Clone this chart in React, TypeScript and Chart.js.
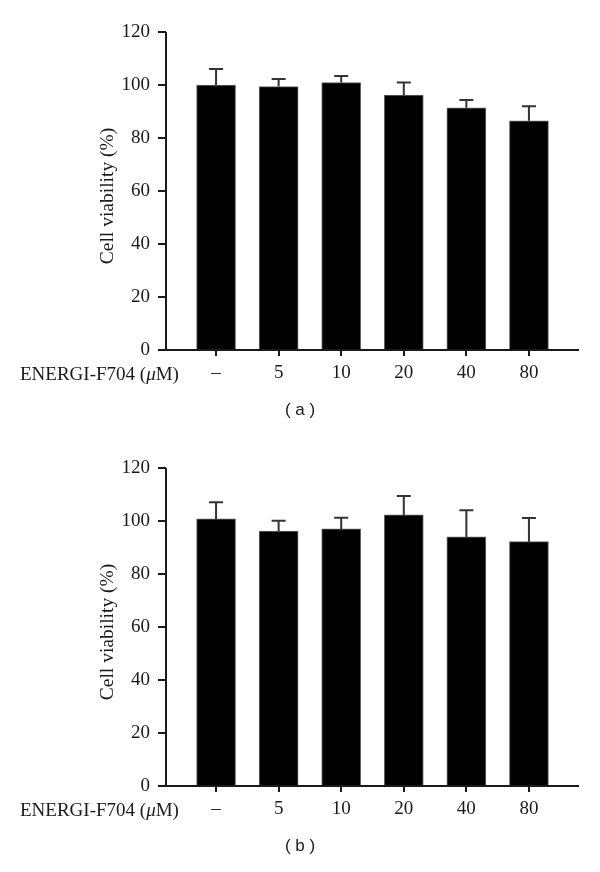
import React, { useEffect, useRef } from 'react';
import { Chart, registerables } from 'chart.js';

Chart.register(...registerables);

// ---- data ----
const categories = ['–', '5', '10', '20', '40', '80'];
const positions = [1, 2, 3, 4, 5, 6];
const yTicks = [0, 20, 40, 60, 80, 100, 120];
const meansA = [100.0, 99.4, 100.9, 96.2, 91.4, 86.5];
const errsA = [6.0, 2.9, 2.5, 4.7, 2.9, 5.5];
const meansB = [100.8, 96.2, 97.0, 102.3, 94.0, 92.2];
const errsB = [6.3, 3.9, 4.2, 7.1, 10.1, 8.9];
const xAxisLabel = ['ENERGI-F704 (', 'μ', 'M)'];
const yAxisLabel = 'Cell viability (%)';

const SERIF = '"Liberation Serif", "DejaVu Serif", serif';
const SANS = '"Liberation Sans", Arial, sans-serif';
const INK = '#1a1a1a';
const FS = 19;

function makePlugin(errs: number[], panelLabel: string) {
  return {
    id: 'extras' + panelLabel.replace(/\W/g, ''),
    afterDatasetsDraw(chart: any) {
      const ctx: CanvasRenderingContext2D = chart.ctx;
      const area = chart.chartArea;
      const yScale = chart.scales.y;
      const meta = chart.getDatasetMeta(0);
      const ds = chart.data.datasets[0].data as any[];
      ctx.save();
      // error bars
      ctx.strokeStyle = '#333';
      ctx.lineWidth = 2;
      meta.data.forEach((el: any, i: number) => {
        const top = yScale.getPixelForValue(ds[i].y + errs[i]);
        ctx.beginPath();
        ctx.moveTo(el.x, el.y);
        ctx.lineTo(el.x, top);
        ctx.moveTo(el.x - 7, top);
        ctx.lineTo(el.x + 7, top);
        ctx.stroke();
      });
      // axes lines
      ctx.strokeStyle = INK;
      ctx.lineWidth = 2;
      ctx.beginPath();
      ctx.moveTo(area.left, area.top);
      ctx.lineTo(area.left, area.bottom);
      ctx.moveTo(area.left - 8, area.bottom);
      ctx.lineTo(area.right, area.bottom);
      ctx.stroke();
      // y-axis title
      ctx.fillStyle = INK;
      ctx.font = `${FS + 0.5}px ${SERIF}`;
      ctx.textAlign = 'center';
      ctx.textBaseline = 'middle';
      ctx.save();
      ctx.translate(108, (area.top + area.bottom) / 2 + 5);
      ctx.rotate(-Math.PI / 2);
      ctx.fillText(yAxisLabel, 0, 0);
      ctx.restore();
      // x-axis title (left of tick labels)
      const ly = area.bottom + 25;
      let x = 20;
      ctx.textAlign = 'left';
      ctx.font = `${FS}px ${SERIF}`;
      ctx.fillText(xAxisLabel[0], x, ly);
      x += ctx.measureText(xAxisLabel[0]).width;
      ctx.font = `italic ${FS}px ${SERIF}`;
      ctx.fillText(xAxisLabel[1], x, ly);
      x += ctx.measureText(xAxisLabel[1]).width;
      ctx.font = `${FS}px ${SERIF}`;
      ctx.fillText(xAxisLabel[2], x, ly);
      // panel label
      ctx.textAlign = 'center';
      ctx.font = `17px ${SANS}`;
      ctx.fillText(panelLabel, 300, area.bottom + 60);
      ctx.restore();
    },
  };
}

function BarPanel({ means, errs, panelLabel }: { means: number[]; errs: number[]; panelLabel: string }) {
  const ref = useRef<HTMLCanvasElement>(null);
  useEffect(() => {
    const chart = new Chart(ref.current as HTMLCanvasElement, {
      type: 'bar',
      data: {
        datasets: [
          {
            data: positions.map((p, i) => ({ x: p, y: means[i] })),
            backgroundColor: '#000',
            borderColor: '#666',
            borderWidth: 1,
            barThickness: 39,
          } as any,
        ],
      },
      options: {
        responsive: false,
        animation: false,
        devicePixelRatio: 1,
        layout: { padding: { left: 0, right: 21, top: 32, bottom: 0 } },
        plugins: { legend: { display: false }, tooltip: { enabled: false } },
        scales: {
          x: {
            type: 'linear',
            min: 0.2,
            max: 6.8,
            offset: false,
            border: { display: false },
            grid: {
              display: true,
              offset: false,
              drawOnChartArea: false,
              drawTicks: true,
              tickLength: 6,
              lineWidth: 2,
              color: INK,
            },
            afterBuildTicks: (scale: any) => {
              scale.ticks = positions.map((v) => ({ value: v }));
            },
            afterFit: (scale: any) => {
              scale.height = 86;
            },
            ticks: {
              autoSkip: false,
              maxRotation: 0,
              padding: 6,
              color: INK,
              font: { family: SERIF, size: FS },
              callback: (v: any) => categories[Number(v) - 1] ?? '',
            },
          },
          y: {
            type: 'linear',
            min: 0,
            max: 120,
            border: { display: false },
            grid: {
              display: true,
              drawOnChartArea: false,
              drawTicks: true,
              tickLength: 8,
              lineWidth: 2,
              color: INK,
            },
            afterBuildTicks: (scale: any) => {
              scale.ticks = yTicks.map((v) => ({ value: v }));
            },
            afterFit: (scale: any) => {
              scale.width = 166;
            },
            ticks: {
              padding: 8,
              color: INK,
              font: { family: SERIF, size: FS },
            },
          },
        },
      } as any,
      plugins: [makePlugin(errs, panelLabel)],
    });
    return () => chart.destroy();
  }, []);
  return <canvas ref={ref} width={600} height={436} style={{ display: 'block', width: 600, height: 436 }} />;
}

export default function App() {
  return (
    <div style={{ position: 'absolute', left: 0, top: 0, width: 600, height: 872, background: '#fff' }}>
      <BarPanel means={meansA} errs={errsA} panelLabel="( a )" />
      <BarPanel means={meansB} errs={errsB} panelLabel="( b )" />
    </div>
  );
}
